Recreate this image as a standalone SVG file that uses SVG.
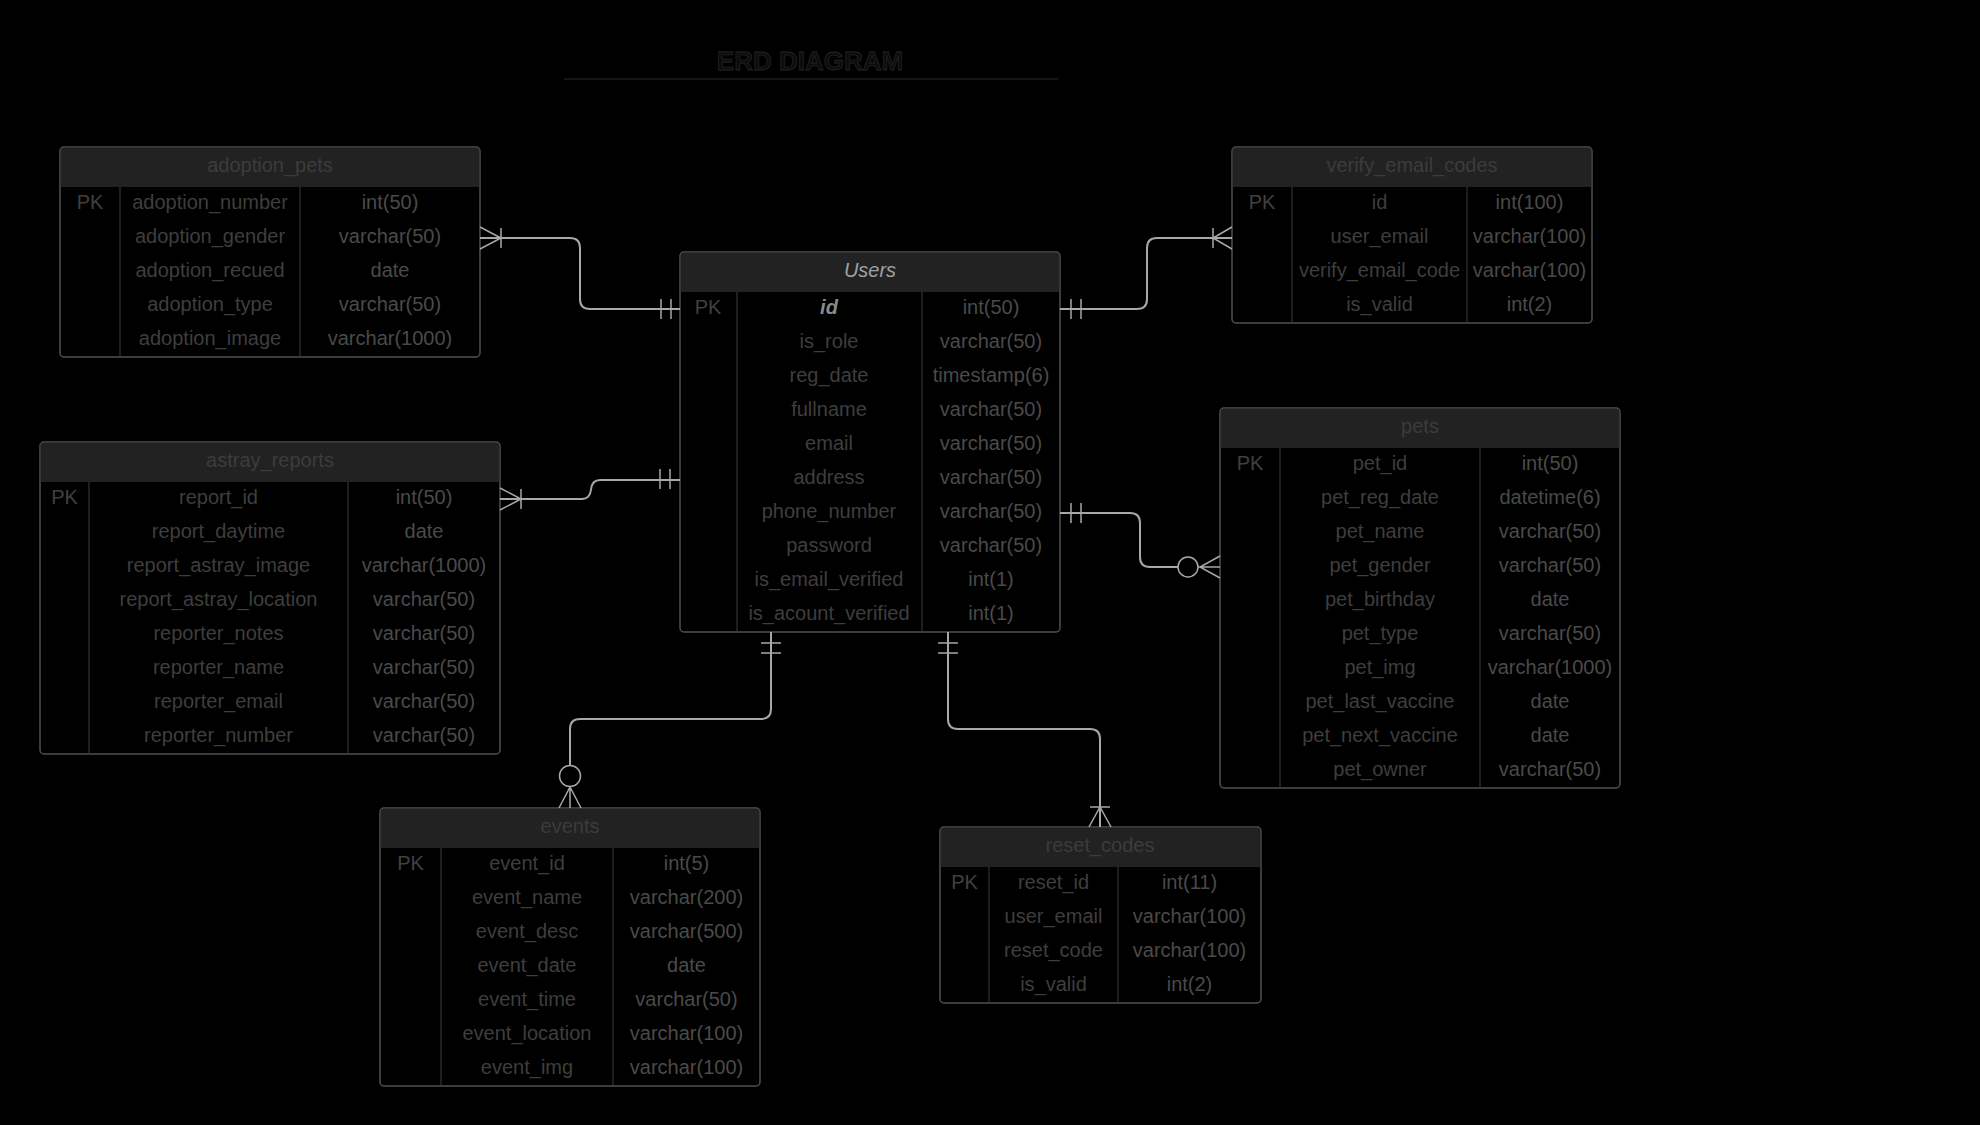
<svg xmlns="http://www.w3.org/2000/svg" width="1980" height="1125" viewBox="0 0 1980 1125">
<style>
.bg{fill:#000}
.box{fill:#000;stroke:#505050;stroke-width:1.5}
.hdr{fill:#222;stroke:none}
.div{stroke:#333;stroke-width:1.2}
text{font-family:"Liberation Sans",Arial,sans-serif;font-size:20px;fill:#3e3e3e;text-anchor:middle;dominant-baseline:middle}
.ht{fill:#3c3c3c}
.pk{fill:#404040}
.ty{fill:#4a4a4a}
.title{font-size:26px;font-weight:bold;fill:#0c0c0c;stroke:#242424;stroke-width:0.8;dominant-baseline:auto}
.cn{fill:none;stroke:#a8a8a8;stroke-width:2}
.mk{fill:none;stroke:#a8a8a8;stroke-width:1.5}
</style>
<rect class="bg" x="0" y="0" width="1980" height="1125"/>
<g id="title">
<text class="title" x="810" y="70">ERD DIAGRAM</text>
<line x1="564" y1="79" x2="1058" y2="79" stroke="#1c1c1c" stroke-width="1.5"/>
</g>

<g id="adoption_pets">
<rect class="box" x="60" y="147" width="420" height="210" rx="4"/>
<path class="hdr" d="M60.75 187 V151 Q60.75 147.75 64 147.75 H476 Q479.25 147.75 479.25 151 V187 Z"/>
<line class="div" x1="120" y1="187" x2="120" y2="356"/>
<line class="div" x1="300" y1="187" x2="300" y2="356"/>
<text class="ht" x="270" y="167">adoption_pets</text>
<text class="pk" x="90" y="204">PK</text>
<text x="210" y="204">adoption_number</text><text class="ty" x="390" y="204">int(50)</text>
<text x="210" y="238">adoption_gender</text><text class="ty" x="390" y="238">varchar(50)</text>
<text x="210" y="272">adoption_recued</text><text class="ty" x="390" y="272">date</text>
<text x="210" y="306">adoption_type</text><text class="ty" x="390" y="306">varchar(50)</text>
<text x="210" y="340">adoption_image</text><text class="ty" x="390" y="340">varchar(1000)</text>
</g>

<g id="users">
<rect class="box" x="680" y="252" width="380" height="380" rx="4"/>
<path class="hdr" d="M680.75 292 V256 Q680.75 252.75 684 252.75 H1056 Q1059.25 252.75 1059.25 256 V292 Z"/>
<line class="div" x1="737" y1="292" x2="737" y2="631"/>
<line class="div" x1="922" y1="292" x2="922" y2="631"/>
<text x="870" y="272" font-style="italic" style="fill:#a0a0a0">Users</text>
<text class="pk" x="708" y="309">PK</text>
<text x="829" y="309" font-style="italic" font-weight="bold" style="fill:#8a8a8a">id</text><text class="ty" x="991" y="309">int(50)</text>
<text x="829" y="343">is_role</text><text class="ty" x="991" y="343">varchar(50)</text>
<text x="829" y="377">reg_date</text><text class="ty" x="991" y="377">timestamp(6)</text>
<text x="829" y="411">fullname</text><text class="ty" x="991" y="411">varchar(50)</text>
<text x="829" y="445">email</text><text class="ty" x="991" y="445">varchar(50)</text>
<text x="829" y="479">address</text><text class="ty" x="991" y="479">varchar(50)</text>
<text x="829" y="513">phone_number</text><text class="ty" x="991" y="513">varchar(50)</text>
<text x="829" y="547">password</text><text class="ty" x="991" y="547">varchar(50)</text>
<text x="829" y="581">is_email_verified</text><text class="ty" x="991" y="581">int(1)</text>
<text x="829" y="615">is_acount_verified</text><text class="ty" x="991" y="615">int(1)</text>
</g>

<g id="verify_email_codes">
<rect class="box" x="1232" y="147" width="360" height="176" rx="4"/>
<path class="hdr" d="M1232.75 187 V151 Q1232.75 147.75 1236 147.75 H1588 Q1591.25 147.75 1591.25 151 V187 Z"/>
<line class="div" x1="1292" y1="187" x2="1292" y2="322"/>
<line class="div" x1="1467" y1="187" x2="1467" y2="322"/>
<text class="ht" x="1412" y="167">verify_email_codes</text>
<text class="pk" x="1262" y="204">PK</text>
<text x="1379.5" y="204">id</text><text class="ty" x="1529.5" y="204">int(100)</text>
<text x="1379.5" y="238">user_email</text><text class="ty" x="1529.5" y="238">varchar(100)</text>
<text x="1379.5" y="272">verify_email_code</text><text class="ty" x="1529.5" y="272">varchar(100)</text>
<text x="1379.5" y="306">is_valid</text><text class="ty" x="1529.5" y="306">int(2)</text>
</g>

<g id="astray_reports">
<rect class="box" x="40" y="442" width="460" height="312" rx="4"/>
<path class="hdr" d="M40.75 482 V446 Q40.75 442.75 44 442.75 H496 Q499.25 442.75 499.25 446 V482 Z"/>
<line class="div" x1="89" y1="482" x2="89" y2="753"/>
<line class="div" x1="348" y1="482" x2="348" y2="753"/>
<text class="ht" x="270" y="462">astray_reports</text>
<text class="pk" x="64.5" y="499">PK</text>
<text x="218.5" y="499">report_id</text><text class="ty" x="424" y="499">int(50)</text>
<text x="218.5" y="533">report_daytime</text><text class="ty" x="424" y="533">date</text>
<text x="218.5" y="567">report_astray_image</text><text class="ty" x="424" y="567">varchar(1000)</text>
<text x="218.5" y="601">report_astray_location</text><text class="ty" x="424" y="601">varchar(50)</text>
<text x="218.5" y="635">reporter_notes</text><text class="ty" x="424" y="635">varchar(50)</text>
<text x="218.5" y="669">reporter_name</text><text class="ty" x="424" y="669">varchar(50)</text>
<text x="218.5" y="703">reporter_email</text><text class="ty" x="424" y="703">varchar(50)</text>
<text x="218.5" y="737">reporter_number</text><text class="ty" x="424" y="737">varchar(50)</text>
</g>

<g id="pets">
<rect class="box" x="1220" y="408" width="400" height="380" rx="4"/>
<path class="hdr" d="M1220.75 448 V412 Q1220.75 408.75 1224 408.75 H1616 Q1619.25 408.75 1619.25 412 V448 Z"/>
<line class="div" x1="1280" y1="448" x2="1280" y2="787"/>
<line class="div" x1="1480" y1="448" x2="1480" y2="787"/>
<text class="ht" x="1420" y="428">pets</text>
<text class="pk" x="1250" y="465">PK</text>
<text x="1380" y="465">pet_id</text><text class="ty" x="1550" y="465">int(50)</text>
<text x="1380" y="499">pet_reg_date</text><text class="ty" x="1550" y="499">datetime(6)</text>
<text x="1380" y="533">pet_name</text><text class="ty" x="1550" y="533">varchar(50)</text>
<text x="1380" y="567">pet_gender</text><text class="ty" x="1550" y="567">varchar(50)</text>
<text x="1380" y="601">pet_birthday</text><text class="ty" x="1550" y="601">date</text>
<text x="1380" y="635">pet_type</text><text class="ty" x="1550" y="635">varchar(50)</text>
<text x="1380" y="669">pet_img</text><text class="ty" x="1550" y="669">varchar(1000)</text>
<text x="1380" y="703">pet_last_vaccine</text><text class="ty" x="1550" y="703">date</text>
<text x="1380" y="737">pet_next_vaccine</text><text class="ty" x="1550" y="737">date</text>
<text x="1380" y="771">pet_owner</text><text class="ty" x="1550" y="771">varchar(50)</text>
</g>

<g id="events">
<rect class="box" x="380" y="808" width="380" height="278" rx="4"/>
<path class="hdr" d="M380.75 848 V812 Q380.75 808.75 384 808.75 H756 Q759.25 808.75 759.25 812 V848 Z"/>
<line class="div" x1="441" y1="848" x2="441" y2="1085"/>
<line class="div" x1="613" y1="848" x2="613" y2="1085"/>
<text class="ht" x="570" y="828">events</text>
<text class="pk" x="410.5" y="865">PK</text>
<text x="527" y="865">event_id</text><text class="ty" x="686.5" y="865">int(5)</text>
<text x="527" y="899">event_name</text><text class="ty" x="686.5" y="899">varchar(200)</text>
<text x="527" y="933">event_desc</text><text class="ty" x="686.5" y="933">varchar(500)</text>
<text x="527" y="967">event_date</text><text class="ty" x="686.5" y="967">date</text>
<text x="527" y="1001">event_time</text><text class="ty" x="686.5" y="1001">varchar(50)</text>
<text x="527" y="1035">event_location</text><text class="ty" x="686.5" y="1035">varchar(100)</text>
<text x="527" y="1069">event_img</text><text class="ty" x="686.5" y="1069">varchar(100)</text>
</g>

<g id="reset_codes">
<rect class="box" x="940" y="827" width="321" height="176" rx="4"/>
<path class="hdr" d="M940.75 867 V831 Q940.75 827.75 944 827.75 H1257 Q1260.25 827.75 1260.25 831 V867 Z"/>
<line class="div" x1="989" y1="867" x2="989" y2="1002"/>
<line class="div" x1="1118" y1="867" x2="1118" y2="1002"/>
<text class="ht" x="1100" y="847">reset_codes</text>
<text class="pk" x="964.5" y="884">PK</text>
<text x="1053.5" y="884">reset_id</text><text class="ty" x="1189.5" y="884">int(11)</text>
<text x="1053.5" y="918">user_email</text><text class="ty" x="1189.5" y="918">varchar(100)</text>
<text x="1053.5" y="952">reset_code</text><text class="ty" x="1189.5" y="952">varchar(100)</text>
<text x="1053.5" y="986">is_valid</text><text class="ty" x="1189.5" y="986">int(2)</text>
</g>

<g id="connectors">
<!-- adoption_pets to Users -->
<path class="cn" d="M480 238 H570 Q580 238 580 248 V299 Q580 309 590 309 H680"/>
<path class="mk" d="M480 227 L501 238 L480 249 M501 228 V248 M661 299 V319 M671 299 V319"/>
<!-- astray_reports to Users -->
<path class="cn" d="M500 499 H582 Q590 499 591 489.5 Q592 480 600 480 H680"/>
<path class="mk" d="M500 488 L521 499 L500 510 M521 489 V509 M660 469 V489 M670 469 V489"/>
<!-- Users to verify_email_codes -->
<path class="cn" d="M1060 309 H1137 Q1147 309 1147 299 V248 Q1147 238 1157 238 H1232"/>
<path class="mk" d="M1071 299 V319 M1081 299 V319 M1213 228 V248 M1232 227 L1213 238 L1232 249"/>
<!-- Users to pets -->
<path class="cn" d="M1060 513 H1130 Q1140 513 1140 523 V557 Q1140 567 1150 567 H1178"/>
<circle class="mk" cx="1188" cy="567" r="10"/>
<path class="mk" d="M1071 503 V523 M1081 503 V523 M1198 567 H1220 M1220 556 L1200 567 L1220 578"/>
<!-- Users to events -->
<path class="cn" d="M771 632 V709 Q771 719 761 719 H580 Q570 719 570 729 V765"/>
<circle class="mk" cx="570" cy="776" r="10.5"/>
<path class="mk" d="M761 643 H781 M761 653 H781 M570 786.5 V808 M559 808 L570 787 L581 808"/>
<!-- Users to reset_codes -->
<path class="cn" d="M948 632 V719 Q948 729 958 729 H1090 Q1100 729 1100 739 V827"/>
<path class="mk" d="M938 643 H958 M938 653 H958 M1090 807 H1110 M1089 827 L1100 807 L1111 827"/>
</g>
</svg>
